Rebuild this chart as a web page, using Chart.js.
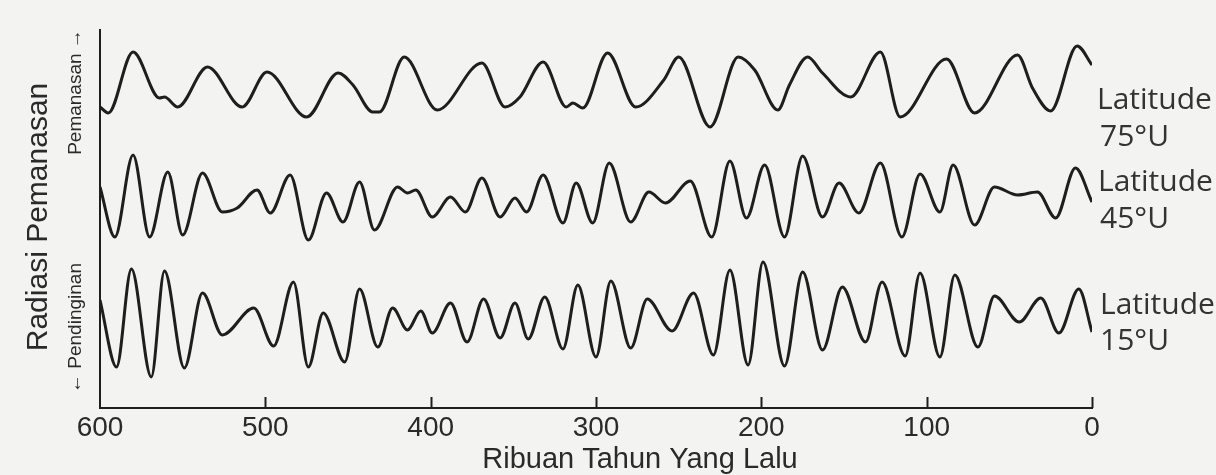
<!DOCTYPE html>
<html>
<head>
<meta charset="utf-8">
<script src="https://cdn.jsdelivr.net/npm/chart.js@4.4.0/dist/chart.umd.min.js"></script>
<style>
  html, body { margin: 0; padding: 0; background: #f3f3f1; }
  #wrap { width: 1216px; height: 475px; }
</style>
</head>
<body>
<div id="wrap"><canvas id="insolationChart" width="1216" height="475"></canvas></div>
<script>
// --- DATA (ribuan tahun yang lalu, indeks radiasi relatif) ---
const xTicks = [600, 500, 400, 300, 200, 100, 0];

const lat75Years  = [600, 595, 580, 564, 561, 553, 535, 514, 499, 475, 456, 447, 435, 431, 416, 396, 369, 355, 346, 332, 318, 314, 308, 293, 276, 259, 250, 231, 214, 204, 190, 183, 172, 163, 146, 128, 116, 88, 71, 45, 36, 25, 9, 0];
const lat75Values = [298, 292, 353, 307, 308, 298, 338, 298, 333, 288, 332, 320, 293, 293, 348, 295, 342, 298, 308, 343, 298, 302, 297, 352, 298, 325, 348, 278, 348, 335, 295, 320, 348, 332, 308, 353, 288, 346, 292, 350, 317, 294, 359, 340];

const lat45Years  = [600, 591, 580, 570, 559, 550, 538, 526, 517, 505, 497, 485, 474, 463, 453, 443, 434, 420, 414, 409, 399, 388, 379, 369, 358, 349, 342, 332, 320, 312, 302, 292, 279, 268, 258, 243, 230, 219, 209, 198, 186, 175, 163, 153, 141, 128, 115, 104, 92, 84, 71, 59, 45, 33, 22, 10, 0];
const lat45Values = [218, 168, 250, 168, 233, 170, 232, 193, 197, 215, 192, 230, 165, 212, 183, 223, 175, 218, 212, 215, 188, 208, 193, 227, 188, 207, 193, 230, 182, 222, 182, 242, 183, 213, 202, 224, 168, 244, 187, 240, 168, 249, 188, 222, 192, 242, 168, 231, 193, 240, 180, 218, 210, 213, 187, 237, 203];

const lat15Years  = [600, 590, 581, 569, 561, 549, 538, 526, 507, 495, 483, 474, 465, 452, 443, 432, 423, 414, 406, 399, 388, 378, 368, 358, 349, 341, 331, 320, 311, 300, 291, 279, 269, 254, 241, 229, 219, 208, 199, 186, 175, 163, 151, 137, 127, 113, 104, 92, 83, 69, 59, 44, 31, 20, 8, 0];
const lat15Values = [105, 38, 136, 28, 134, 37, 112, 70, 97, 59, 123, 38, 92, 43, 116, 58, 97, 75, 94, 72, 102, 63, 106, 67, 102, 66, 108, 56, 120, 48, 124, 57, 106, 74, 112, 50, 135, 40, 143, 39, 133, 55, 118, 63, 123, 49, 132, 48, 130, 58, 109, 83, 107, 72, 116, 73];

const seriesNames = ['Latitude 75°U', 'Latitude 45°U', 'Latitude 15°U'];

const inkColor = '#1e1e1e';

function toPoints(years, values) {
    return years.map((y, i) => ({ x: y, y: values[i] }));
}

function lineDataset(label, years, values) {
    return {
        label: label,
        data: toPoints(years, values),
        borderColor: inkColor,
        borderWidth: 3,
        pointRadius: 0,
        fill: false,
        cubicInterpolationMode: 'monotone'
    };
}

// --- TEKS TAMBAHAN (judul sumbu, panah, label lintang) ---
const extraText = {
    id: 'extraText',
    afterDraw(chart) {
        const ctx = chart.ctx;
        const xs = chart.scales.x;
        const area = chart.chartArea;
        ctx.save();

        // tanda tick ke arah dalam
        ctx.strokeStyle = inkColor;
        ctx.lineWidth = 2;
        xTicks.forEach(t => {
            if (t === 600) return;
            const px = Math.round(xs.getPixelForValue(t)) + 0.5;
            ctx.beginPath();
            ctx.moveTo(px, area.bottom);
            ctx.lineTo(px, area.bottom - 11);
            ctx.stroke();
        });

        ctx.fillStyle = '#2a2a2a';
        ctx.textBaseline = 'middle';
        ctx.textAlign = 'center';

        // judul sumbu x
        ctx.font = '29px "Liberation Sans", Arial, sans-serif';
        ctx.fillText('Ribuan Tahun Yang Lalu', 640, 460);

        // judul sumbu y (vertikal)
        const vText = (text, x, y, font) => {
            ctx.save();
            ctx.translate(x, y);
            ctx.rotate(-Math.PI / 2);
            ctx.font = font;
            ctx.fillText(text, 0, 0);
            ctx.restore();
        };
        vText('Radiasi Pemanasan', 39, 217, '30px "Liberation Sans", Arial, sans-serif');
        vText('Pemanasan \u2192', 76, 92, '19px "Liberation Sans Narrow", "Liberation Sans", sans-serif');
        vText('\u2190 Pendinginan', 76, 328, '19px "Liberation Sans Narrow", "Liberation Sans", sans-serif');

        // label lintang di kanan
        ctx.textAlign = 'left';
        ctx.font = '30px "Open Sans", "Liberation Sans", sans-serif';
        ctx.fillStyle = '#333';
        ctx.fillText('Latitude', 1097, 100);
        ctx.fillText('75°U', 1100, 137);
        ctx.fillText('Latitude', 1098, 182);
        ctx.fillText('45°U', 1100, 219);
        ctx.fillText('Latitude', 1100, 305);
        ctx.fillText('15°U', 1100, 341);

        ctx.restore();
    }
};

const ctx = document.getElementById('insolationChart').getContext('2d');
new Chart(ctx, {
    type: 'line',
    data: {
        datasets: [
            lineDataset(seriesNames[0], lat75Years, lat75Values),
            lineDataset(seriesNames[1], lat45Years, lat45Values),
            lineDataset(seriesNames[2], lat15Years, lat15Values)
        ]
    },
    options: {
        responsive: false,
        animation: false,
        layout: { padding: { top: 30, right: 124, left: 0, bottom: 0 } },
        plugins: { legend: { display: false }, tooltip: { enabled: false } },
        scales: {
            x: {
                type: 'linear',
                reverse: true,
                min: 0,
                max: 600,
                afterBuildTicks: (scale) => { scale.ticks = xTicks.map(v => ({ value: v })); },
                afterFit: (scale) => { scale.height = 67; },
                ticks: {
                    color: '#2a2a2a',
                    padding: 3,
                    maxRotation: 0,
                    font: { family: '"Liberation Sans", Arial, sans-serif', size: 28 }
                },
                grid: { display: false, drawTicks: false },
                border: { display: true, color: inkColor, width: 2 }
            },
            y: {
                min: -3,
                max: 375,
                afterFit: (scale) => { scale.width = 100; },
                ticks: { display: false },
                grid: { display: false, drawTicks: false },
                border: { display: true, color: inkColor, width: 2 }
            }
        }
    },
    plugins: [extraText]
});
</script>
</body>
</html>
